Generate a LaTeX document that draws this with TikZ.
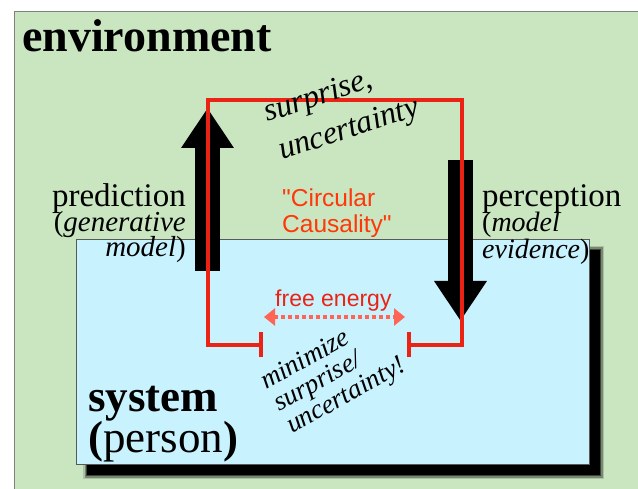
\documentclass[tikz,border=0pt]{standalone}
\usepackage{fontspec}
\setmainfont{Liberation Serif}
\setsansfont{Liberation Sans}[Ligatures=TeXOff]
\usetikzlibrary{arrows.meta}
\definecolor{envgreen}{RGB}{201,230,192}
\definecolor{sysblue}{RGB}{200,242,253}
\definecolor{loopred}{RGB}{235,35,20}
\definecolor{causeorange}{RGB}{255,55,10}
\definecolor{energysalmon}{RGB}{255,100,85}
\begin{document}
\begin{tikzpicture}[x=1pt,y=-1pt,
    lbl/.style={inner sep=0pt},
    blockarrow/.style={line width=25pt,-{Triangle[width=50pt,length=40pt]}},
    loopline/.style={loopred,line width=3.8pt,line join=miter,
      {Bar[width=25pt]}-{Bar[width=25pt]}}]
    \useasboundingbox (0,0) rectangle (638,489);
    \fill[white] (0,0) rectangle (638,489);
    % environment and system boxes
    \draw[fill=envgreen,draw=gray,line width=1pt] (14,12) rectangle (645,495);
    \foreach \s/\o in {4/0.15,2.5/0.3,1/0.5,0/1}
        \fill[black,opacity=\o] (87-\s,250-\s) rectangle (600+\s,475+\s);
    \draw[fill=sysblue,draw=gray!70!black,line width=0.8pt] (76,239) rectangle (589,464);
    % anchor points
    \coordinate (predlow) at (207.5,271);
    \coordinate (predtip) at (207.5,108);
    \coordinate (perctop) at (460.5,160);
    \coordinate (perctip) at (460.5,321);
    \coordinate (fl) at (263,345);
    \coordinate (bl) at (208,345);
    \coordinate (tl) at (208,100);
    \coordinate (tr) at (462,100);
    \coordinate (br) at (462,345);
    \coordinate (fr) at (407,345);
    \coordinate (fel) at (264,317);
    \coordinate (fer) at (405,317);
    % block arrows
    \draw[blockarrow] (predlow) -- (predtip);
    \draw[blockarrow] (perctop) -- (perctip);
    % circular causality loop
    \draw[loopline] (fl) -- (bl) -- (tl) -- (tr) -- (br) -- (fr);
    \draw[energysalmon,line width=4pt,dash pattern=on 4pt off 3pt,
      {Triangle[width=17pt,length=11pt]}-{Triangle[width=17pt,length=11pt]}] (fel) -- (fer);
    % labels
    \node[lbl,anchor=base west] (env) at (22,52) {\fontsize{46}{50}\selectfont\bfseries environment};
    \node[lbl,anchor=base east] (pred) at (186,207) {\fontsize{33}{36}\selectfont prediction};
    \node[lbl,anchor=base east] (predgen) at (186,232) {\fontsize{29}{32}\selectfont (\textit{generative}};
    \node[lbl,anchor=base east] (predmod) at (186,257) {\fontsize{29}{32}\selectfont \textit{model})};
    \node[lbl,anchor=base west] (perc) at (482,207) {\fontsize{33}{36}\selectfont perception};
    \node[lbl,anchor=base west] (percmod) at (482,232) {\fontsize{28}{32}\selectfont (\textit{model}};
    \node[lbl,anchor=base west] (percev) at (482,259) {\fontsize{28}{32}\selectfont \textit{evidence})};
    \node[lbl,anchor=base west,text=causeorange] (circ) at (282,207) {\fontsize{24.5}{26}\selectfont\sffamily "Circular};
    \node[lbl,anchor=base west,text=causeorange] (caus) at (282,233) {\fontsize{24.5}{26}\selectfont\sffamily Causality"};
    \node[lbl,anchor=base west,text=loopred] (free) at (275,307) {\fontsize{23}{24}\selectfont\sffamily free energy};
    \node[lbl,anchor=base west,rotate=18] (surp) at (267,122) {\fontsize{32}{34}\selectfont\itshape surprise,};
    \node[lbl,anchor=base west,rotate=18] (unc) at (282,160) {\fontsize{32}{34}\selectfont\itshape uncertainty};
    \node[lbl,anchor=base west,rotate=29] (mini) at (266,390) {\fontsize{27}{28}\selectfont\itshape minimize};
    \node[lbl,anchor=base west,rotate=29] (misurp) at (279,412) {\fontsize{27}{28}\selectfont\itshape surprise/};
    \node[lbl,anchor=base west,rotate=29] (miunc) at (292,434) {\fontsize{27}{28}\selectfont\itshape uncertainty!};
    \node[lbl,anchor=base west] (sys) at (88,412) {\fontsize{45}{48}\selectfont\bfseries system};
    \node[lbl,anchor=base west] (pers) at (88,452) {\fontsize{45}{48}\selectfont\textbf{(}person\textbf{)}};
\end{tikzpicture}
\end{document}
